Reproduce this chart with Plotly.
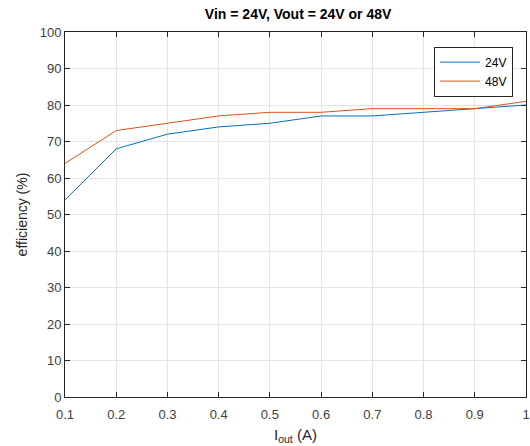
import plotly.graph_objects as go

# Output current (A) and measured efficiency (%) for each output voltage
i_out = [0.1, 0.2, 0.3, 0.4, 0.5, 0.6, 0.7, 0.8, 0.9, 1.0]
eff_24v = [54, 68, 72, 74, 75, 77, 77, 78, 79, 80]
eff_48v = [64, 73, 75, 77, 78, 78, 79, 79, 79, 81]

x_ticks = [0.1, 0.2, 0.3, 0.4, 0.5, 0.6, 0.7, 0.8, 0.9, 1.0]
x_tick_text = ["0.1", "0.2", "0.3", "0.4", "0.5", "0.6", "0.7", "0.8", "0.9", "1"]
y_ticks = list(range(0, 101, 10))

font_family = "Liberation Sans, Arial, sans-serif"
axis_color = "#262626"
grid_color = "#e3e3e3"

fig = go.Figure()
fig.add_trace(go.Scatter(x=i_out, y=eff_24v, mode="lines", name="24V",
                         line=dict(color="#0072BD", width=1)))
fig.add_trace(go.Scatter(x=i_out, y=eff_48v, mode="lines", name="48V",
                         line=dict(color="#D95319", width=1)))

axis_common = dict(
    showline=True, linecolor=axis_color, linewidth=1, mirror="ticks",
    ticks="inside", ticklen=5, tickcolor=axis_color,
    showgrid=True, gridcolor=grid_color, gridwidth=1,
    zeroline=False, tickfont=dict(family=font_family, size=13, color="#404040"),
)

fig.update_xaxes(range=[0.1, 1.0], tickvals=x_ticks, ticktext=x_tick_text,
                 ticklabelstandoff=5, ticklabeloverflow="allow",
                 title=dict(text="I<sub>out</sub> (A)", standoff=8,
                            font=dict(family=font_family, size=15, color="#262626")),
                 **axis_common)
fig.update_yaxes(range=[0, 100], tickvals=y_ticks,
                 title=dict(text="efficiency (%)", standoff=8,
                            font=dict(family=font_family, size=14, color="#262626")),
                 **axis_common)

fig.update_layout(
    width=530, height=446,
    margin=dict(l=65, r=0, t=32, b=49),
    paper_bgcolor="white", plot_bgcolor="white",
    title=dict(text="<b>Vin = 24V, Vout = 24V or 48V</b>", x=0.5625, xanchor="center",
               y=0.968, yanchor="middle",
               font=dict(family=font_family, size=14, color="#000000")),
    legend=dict(x=0.972, y=0.96, xanchor="right", yanchor="top",
                bordercolor=axis_color, borderwidth=1, bgcolor="white",
                font=dict(family=font_family, size=12, color="#000000"),
                itemwidth=40, tracegroupgap=0),
    showlegend=True,
)

fig.write_html("out.html")
